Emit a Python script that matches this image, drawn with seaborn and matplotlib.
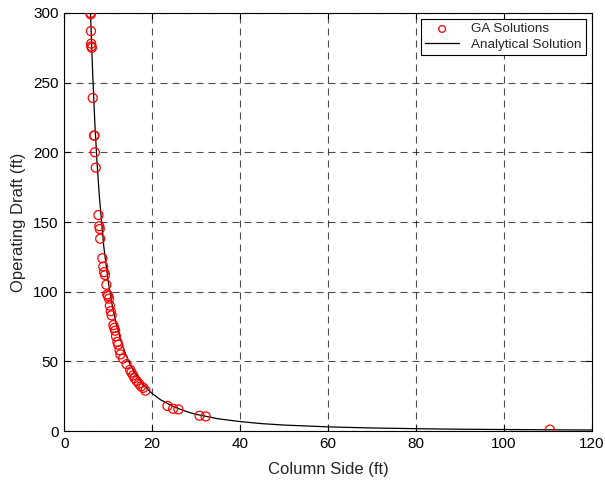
import matplotlib
matplotlib.use("Agg")
import matplotlib.pyplot as plt
import seaborn as sns
import pandas as pd

# GA solutions
ga_x = [6.0, 6.05, 6.1, 6.15, 6.2, 6.3, 6.5, 6.8, 6.9, 7.0, 7.2, 7.8, 8.0, 8.1, 8.2,
        8.7, 8.9, 9.1, 9.3, 9.6, 9.8, 10.0, 10.2, 10.4, 10.6, 10.8, 11.2, 11.4, 11.6,
        11.8, 12.1, 12.3, 12.6, 12.8, 13.4, 14.2, 15.0, 15.3, 15.7, 16.0, 16.5, 17.0,
        17.5, 18.0, 18.5, 23.5, 24.8, 26.0, 30.8, 32.2, 110.5]
ga_y = [300, 299, 287, 278, 276, 275, 239, 212, 212, 200, 189, 155, 147, 145, 138,
        124, 118, 114, 112, 105, 98, 97, 95, 90, 86, 83, 76, 74, 72,
        68, 64, 62, 58, 55, 52, 48, 44, 42, 40, 38, 36, 34,
        32, 31, 29, 18, 16, 15.5, 11, 10.5, 1]

# Analytical solution
an_x = [6.0, 6.5, 7.0, 7.5, 8.0, 9.0, 10, 11, 12, 13, 14, 15, 16, 18, 20, 22, 25,
        28, 30, 35, 40, 45, 50, 60, 70, 80, 90, 100, 110, 120]
an_y = [300, 256, 220, 192, 169, 133, 108, 89, 75, 64, 55, 48, 42, 33, 27, 22.3, 17.3,
        13.8, 12, 8.8, 6.8, 5.3, 4.3, 3.0, 2.2, 1.7, 1.3, 1.1, 0.9, 0.75]

x_ticks = [0, 20, 40, 60, 80, 100, 120]
y_ticks = [0, 50, 100, 150, 200, 250, 300]

sns.set_style("white")
plt.rcParams['font.family'] = ['Liberation Sans', 'DejaVu Sans']

fig = plt.figure(figsize=(6.05, 4.8), dpi=100)
ax = fig.add_axes([0.106, 0.102, 0.872, 0.871])

ga = pd.DataFrame({"x": ga_x, "y": ga_y})
an = pd.DataFrame({"x": an_x, "y": an_y})

sns.scatterplot(data=ga, x="x", y="y", ax=ax, marker="o", s=42,
                facecolors="none", edgecolor="red", linewidth=0.9,
                label="GA Solutions", zorder=3)
sns.lineplot(data=an, x="x", y="y", ax=ax, color="black", linewidth=0.9,
             label="Analytical Solution", zorder=2)

ax.set_xlim(0, 120)
ax.set_ylim(0, 300)
ax.set_xticks(x_ticks)
ax.set_yticks(y_ticks)
ax.grid(True, color="black", linestyle=(0, (6.3, 4.5)), linewidth=0.8, alpha=0.7)
ax.tick_params(direction="in", length=4, width=0.8, labelsize=11, colors="black",
               top=True, right=True, bottom=True, left=True, pad=4)
for sp in ax.spines.values():
    sp.set_color("black")
    sp.set_linewidth(0.8)
ax.set_xlabel("Column Side (ft)", fontsize=12, labelpad=8)
ax.set_ylabel("Operating Draft (ft)", fontsize=12, labelpad=5)

leg = ax.legend(loc="upper right", fontsize=9.7, frameon=True, fancybox=False,
                borderpad=0.3, labelspacing=0.2, handlelength=2.5,
                handletextpad=0.9, borderaxespad=0.45, markerscale=0.75)
leg.get_frame().set_edgecolor("black")
leg.get_frame().set_linewidth(0.8)
leg.get_frame().set_alpha(1)

fig.savefig("out.png", dpi=100)
